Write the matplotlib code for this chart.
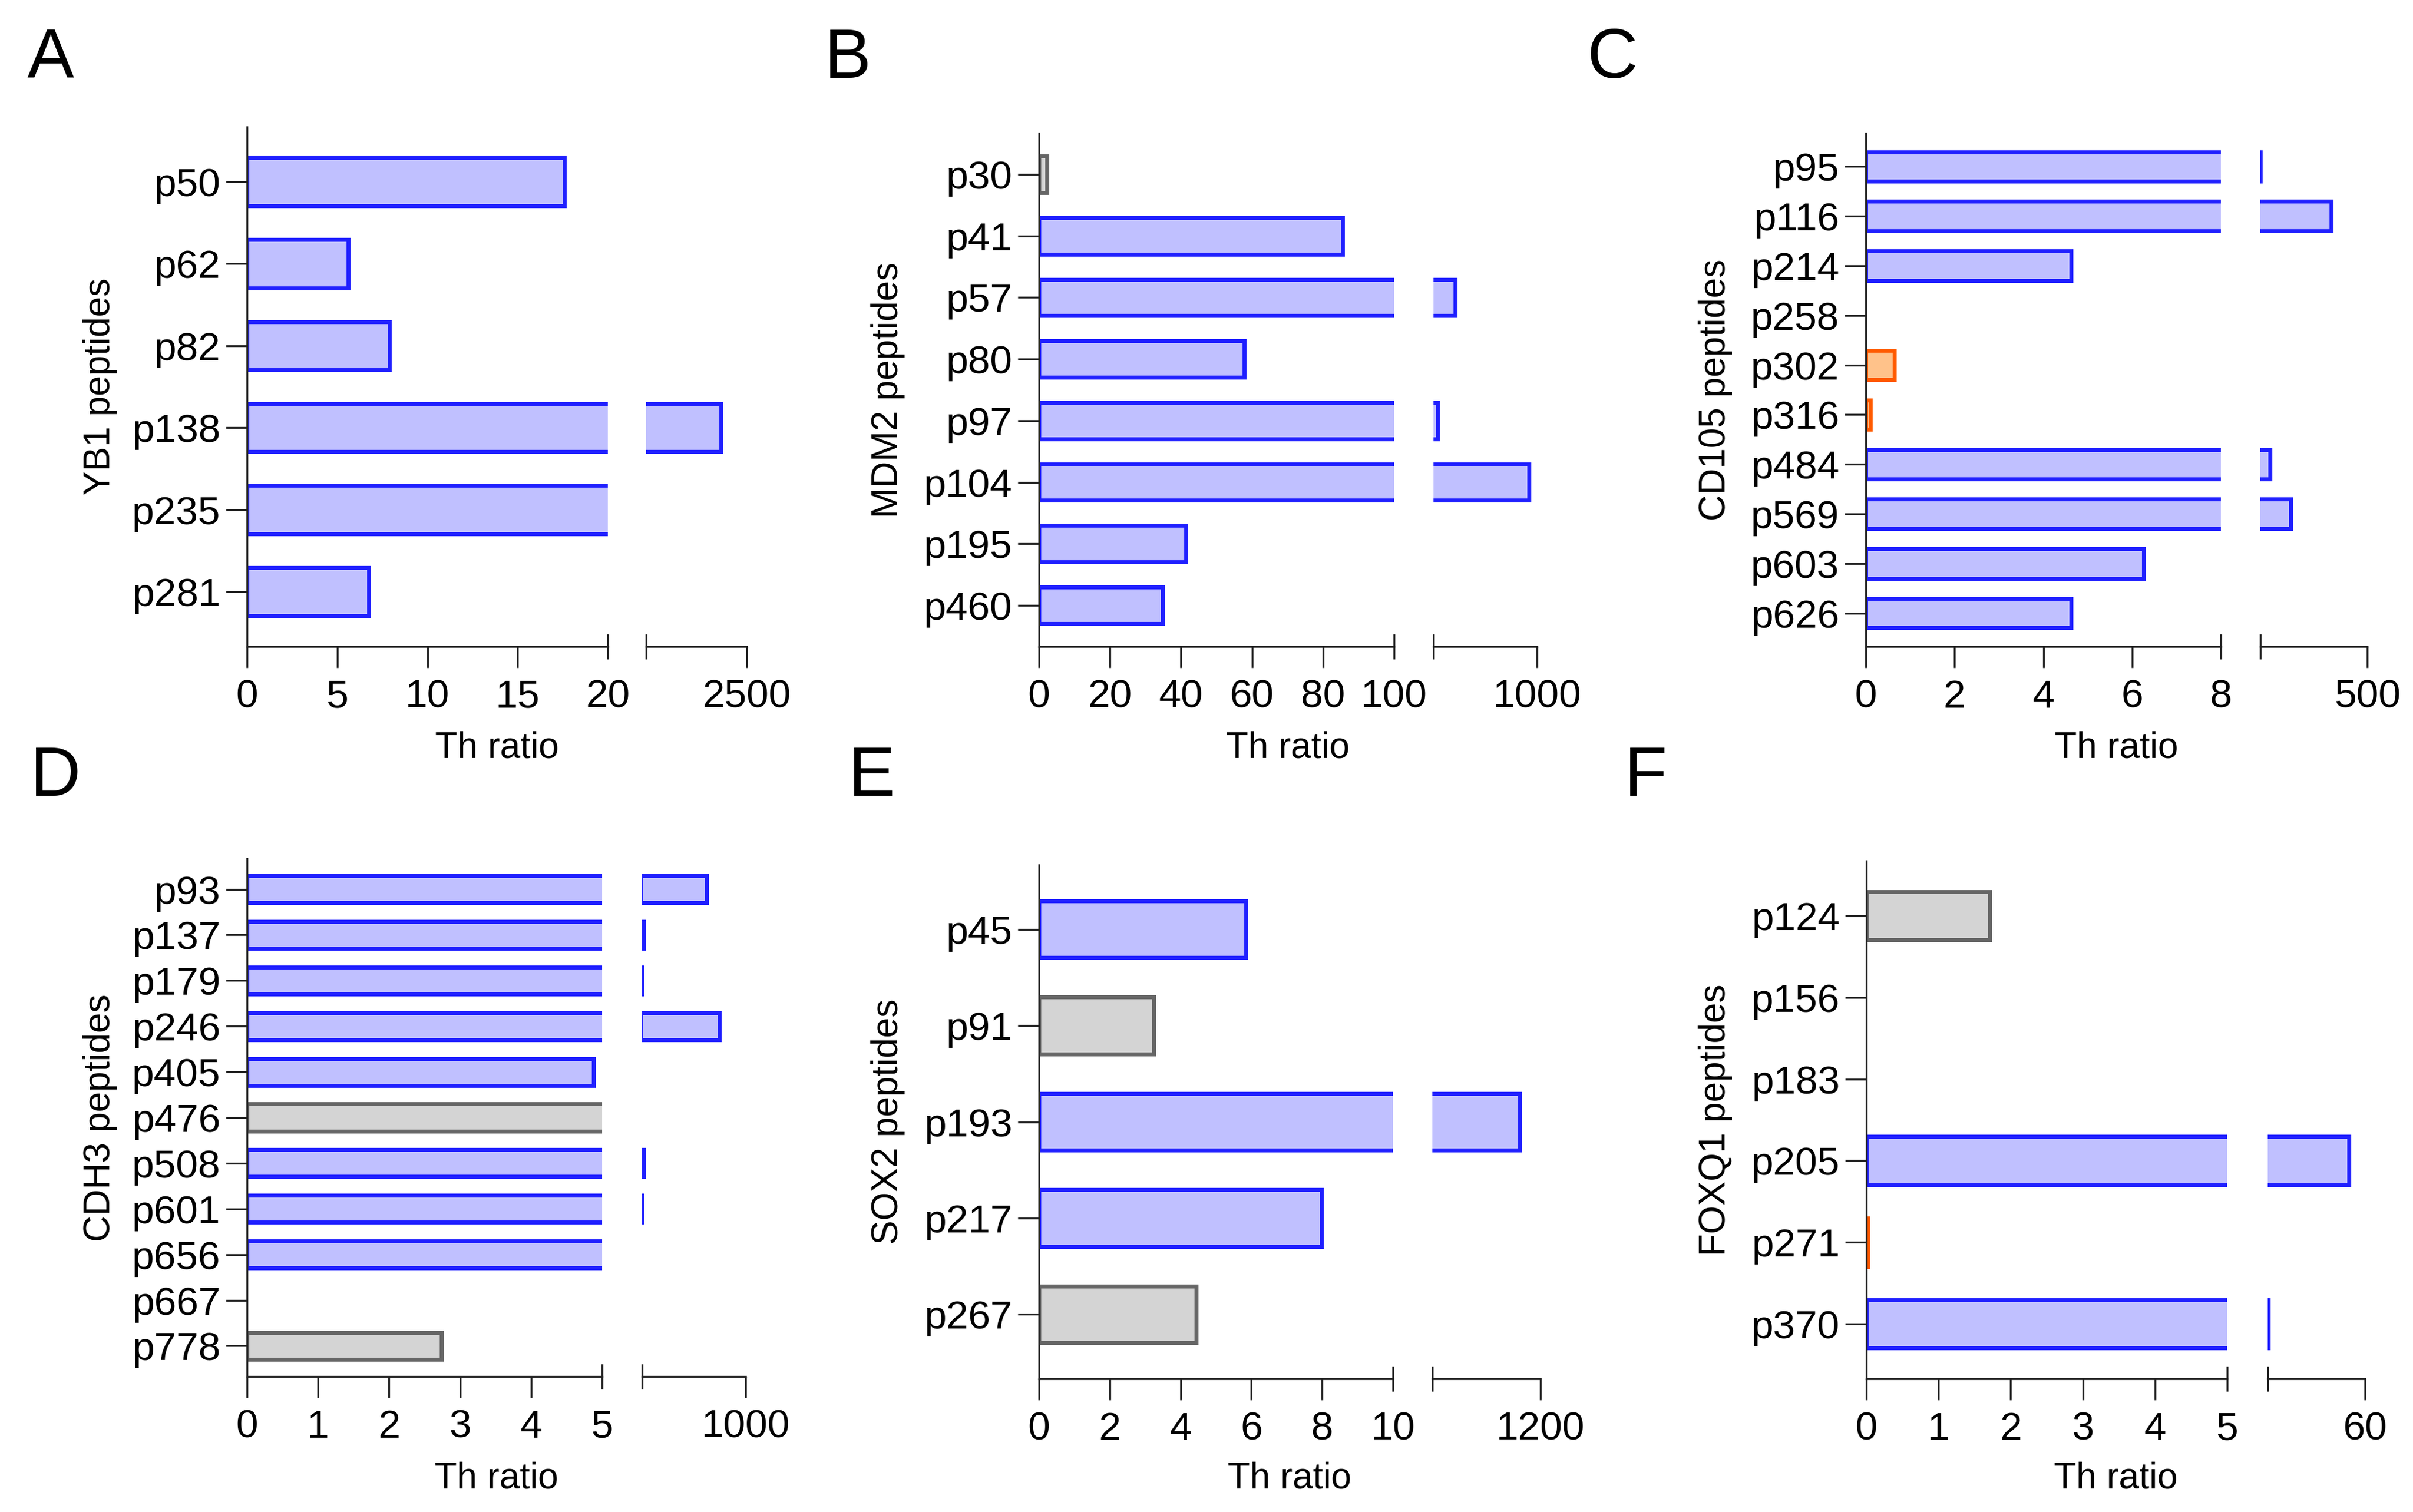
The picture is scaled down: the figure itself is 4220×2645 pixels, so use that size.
import matplotlib
matplotlib.use('Agg')
import matplotlib.pyplot as plt
from matplotlib.ticker import FixedLocator, FixedFormatter

plt.rcParams['font.family'] = ['Liberation Sans', 'DejaVu Sans']

# fill / edge colours per group
COLORS = {'b': ('#c0c0ff', '#2020ff'),
          'g': ('#d4d4d4', '#666666'),
          'o': ('#ffc28a', '#ff5a00')}

# ---- data ----
# A: YB1
yb1_pep = ['p50', 'p62', 'p82', 'p138', 'p235', 'p281']
yb1_val = [17.6, 5.6, 7.9, 1890, 60, 6.75]
yb1_grp = ['b', 'b', 'b', 'b', 'b', 'b']
yb1_ticks = [0, 5, 10, 15]
yb1_break = [20, 100, 2500]   # end of segment 1, start / end of segment 2

# B: MDM2
mdm2_pep = ['p30', 'p41', 'p57', 'p80', 'p97', 'p104', 'p195', 'p460']
mdm2_val = [2.3, 85.5, 366, 57.8, 232, 938, 41.4, 34.8]
mdm2_grp = ['g', 'b', 'b', 'b', 'b', 'b', 'b', 'b']
mdm2_ticks = [0, 20, 40, 60, 80]
mdm2_break = [100, 200, 1000]

# C: CD105
cd105_pep = ['p95', 'p116', 'p214', 'p258', 'p302', 'p316', 'p484', 'p569', 'p603', 'p626']
cd105_val = [10.5, 335, 4.62, 0, 0.64, 0.1, 54.7, 149.5, 6.26, 4.62]
cd105_grp = ['b', 'b', 'b', 'b', 'o', 'o', 'b', 'b', 'b', 'b']
cd105_ticks = [0, 2, 4, 6]
cd105_break = [8, 10, 500]

# D: CDH3
cdh3_pep = ['p93', 'p137', 'p179', 'p246', 'p405', 'p476', 'p508', 'p601', 'p656', 'p667', 'p778']
cdh3_val = [630, 25, 11, 751, 4.88, 8, 25, 11, 8, 0, 2.74]
cdh3_grp = ['b', 'b', 'b', 'b', 'b', 'g', 'b', 'b', 'b', 'b', 'g']
cdh3_ticks = [0, 1, 2, 3, 4]
cdh3_break = [5, 10, 1000]

# E: SOX2
sox2_pep = ['p45', 'p91', 'p193', 'p217', 'p267']
sox2_val = [5.85, 3.25, 990, 7.98, 4.44]
sox2_grp = ['b', 'g', 'b', 'b', 'g']
sox2_ticks = [0, 2, 4, 6, 8]
sox2_break = [10, 100, 1200]

# F: FOXQ1
foxq1_pep = ['p124', 'p156', 'p183', 'p205', 'p271', 'p370']
foxq1_val = [1.71, 0, 0, 51.8, 0.02, 10.2]
foxq1_grp = ['g', 'b', 'b', 'b', 'o', 'b']
foxq1_ticks = [0, 1, 2, 3, 4]
foxq1_break = [5, 10, 60]

panels = [
    ('A', 'YB1 peptides', yb1_pep, yb1_val, yb1_grp, yb1_ticks, yb1_break),
    ('B', 'MDM2 peptides', mdm2_pep, mdm2_val, mdm2_grp, mdm2_ticks, mdm2_break),
    ('C', 'CD105 peptides', cd105_pep, cd105_val, cd105_grp, cd105_ticks, cd105_break),
    ('D', 'CDH3 peptides', cdh3_pep, cdh3_val, cdh3_grp, cdh3_ticks, cdh3_break),
    ('E', 'SOX2 peptides', sox2_pep, sox2_val, sox2_grp, sox2_ticks, sox2_break),
    ('F', 'FOXQ1 peptides', foxq1_pep, foxq1_val, foxq1_grp, foxq1_ticks, foxq1_break),
]

# ---- layout (pixels of the 4220x2645 canvas) ----
W, H = 4220, 2645
# x0, break, seg2 start, seg2 end, bottom, top
frames = [(432, 1063, 1130, 1306, 1131, 222),
          (1817, 2438, 2507, 2688, 1131, 233),
          (3263, 3884, 3953, 4140, 1131, 233),
          (432, 1053, 1123, 1304, 2408, 1502),
          (1817, 2436, 2505, 2694, 2412, 1513),
          (3264, 3895, 3966, 4136, 2412, 1506)]
ylab_x = [175, 1553, 3000, 175, 1553, 3000]
xlab_y = [1326, 1326, 1326, 2603, 2603, 2603]
letter_xy = [(89, 136), (1483, 136), (2820, 136), (97, 1392), (1525, 1392), (2878, 1392)]

AX_C = '#222222'
LW = 1.2
TL = 13.2
FS = 25

fig = plt.figure(figsize=(W / 200, H / 200), dpi=200)

for (letter, ylab, pep, val, grp, ticks, brk), fr, yx, xy_, lxy in zip(
        panels, frames, ylab_x, xlab_y, letter_xy):
    x0, xb, xr0, xr1, yb, yt = fr
    ax1 = fig.add_axes([x0 / W, 1 - yb / H, (xb - x0) / W, (yb - yt) / H])
    ax2 = fig.add_axes([xr0 / W, 1 - yb / H, (xr1 - xr0) / W, (yb - yt) / H])
    n = len(pep)
    pos = list(range(n))
    # segment 1 gets every non-zero bar, segment 2 only the ones reaching it
    for ax, keep in ((ax1, [i for i in pos if val[i] > 0]),
                     (ax2, [i for i in pos if val[i] > brk[1]])):
        if keep:
            ax.barh([pos[i] for i in keep], [val[i] for i in keep], height=0.59,
                    color=[COLORS[grp[i]][0] for i in keep],
                    edgecolor=[COLORS[grp[i]][1] for i in keep],
                    linewidth=2.5, zorder=1)
        ax.set_ylim(n - 1 + 0.67, -0.67)
        for s in ('top', 'right'):
            ax.spines[s].set_visible(False)
        ax.spines['bottom'].set_linewidth(LW)
        ax.spines['bottom'].set_color(AX_C)
        ax.tick_params(axis='x', which='major', direction='out', length=TL,
                       width=LW, color=AX_C, pad=7.2, labelsize=FS)
        ax.tick_params(axis='x', which='minor', direction='inout', length=15.8,
                       width=LW, color=AX_C, pad=12.5, labelsize=FS)
    ax1.set_xlim(0, brk[0])
    ax2.set_xlim(brk[1], brk[2])
    ax1.set_xticks(ticks)
    ax1.xaxis.set_minor_locator(FixedLocator([brk[0]]))
    ax1.xaxis.set_minor_formatter(FixedFormatter([str(brk[0])]))
    ax2.set_xticks([brk[2]])
    ax2.xaxis.set_minor_locator(FixedLocator([brk[1]]))

    ax1.spines['left'].set_linewidth(LW)
    ax1.spines['left'].set_color(AX_C)
    ax1.set_yticks(pos, pep)
    ax1.tick_params(axis='y', length=TL, width=LW, color=AX_C, pad=3.5, labelsize=FS)
    ax2.spines['left'].set_visible(False)
    ax2.set_yticks([])

    fig.text(yx / W, 1 - (yb + yt) / 2 / H, ylab, rotation=90, ha='center',
             va='center', fontsize=23)
    fig.text((x0 + xr1) / 2 / W, 1 - xy_ / H, 'Th ratio', ha='center',
             va='baseline', fontsize=23)
    fig.text(lxy[0] / W, 1 - lxy[1] / H, letter, ha='center', va='baseline',
             fontsize=44)

fig.savefig('out.png', dpi=200)
